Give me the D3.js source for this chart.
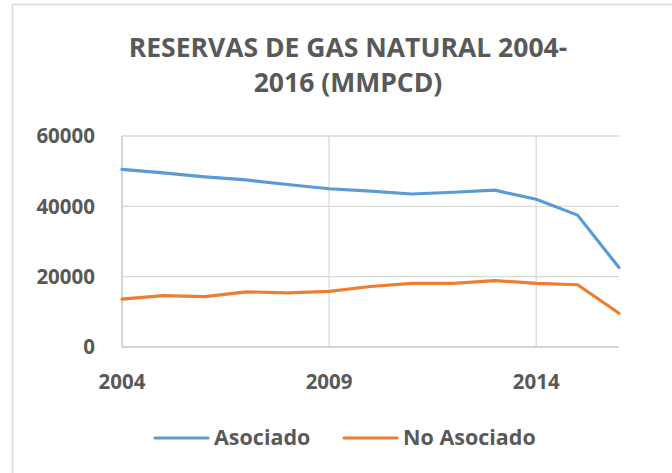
<!DOCTYPE html>
<html>
<head>
<meta charset="utf-8">
<script src="https://cdn.jsdelivr.net/npm/d3@7"></script>
<style>
  body { margin: 0; background: #fff; }
  svg { display: block; font-family: "Open Sans", sans-serif; }
</style>
</head>
<body>
<div id="chart"></div>
<script>
// data
const years = [2004, 2005, 2006, 2007, 2008, 2009, 2010, 2011, 2012, 2013, 2014, 2015, 2016];
const asociado = [50500, 49500, 48400, 47500, 46200, 45000, 44300, 43500, 44000, 44600, 42000, 37500, 22600];
const noAsociado = [13600, 14600, 14300, 15700, 15400, 15800, 17200, 18100, 18100, 18900, 18100, 17700, 9600];
const yTicks = [0, 20000, 40000, 60000];
const xTicks = [2004, 2009, 2014];
const seriesNames = ["Asociado", "No Asociado"];
const colors = ["#5b9bd5", "#ed7d31"];

const width = 672;
const height = 473;
const textColor = "#595959";

function drawChart(el) {
    const svg = el.append("svg").attr("width", width).attr("height", height);

    // chart area border
    svg.append("rect")
        .attr("x", 12.5).attr("y", 4.5)
        .attr("width", width).attr("height", height)
        .attr("fill", "#fff")
        .attr("stroke", "#d9d9d9").attr("stroke-width", 1.5);

    // title, two lines
    const title = svg.append("text")
        .attr("text-anchor", "middle")
        .attr("fill", textColor)
        .attr("font-weight", "bold")
        .attr("font-size", 26.5);
    title.append("tspan").attr("x", 348).attr("y", 57).text("RESERVAS DE GAS NATURAL 2004-");
    title.append("tspan").attr("x", 348).attr("y", 92).text("2016 (MMPCD)");

    const xscale = d3.scaleLinear().domain([2004, 2016]).range([122, 619]);
    const yscale = d3.scaleLinear().domain([0, 60000]).range([347, 136]);

    // gridlines
    svg.append("g").selectAll("line").data(yTicks.filter(d => d > 0)).join("line")
        .attr("x1", xscale(2004)).attr("x2", xscale(2016))
        .attr("y1", d => yscale(d)).attr("y2", d => yscale(d))
        .attr("stroke", "#d9d9d9").attr("stroke-width", 1.3);
    svg.append("g").selectAll("line").data(xTicks.filter(d => d > 2004)).join("line")
        .attr("x1", d => xscale(d)).attr("x2", d => xscale(d))
        .attr("y1", yscale(0)).attr("y2", yscale(60000))
        .attr("stroke", "#d9d9d9").attr("stroke-width", 1.3);

    // axis lines
    svg.append("line")
        .attr("x1", xscale(2004)).attr("x2", xscale(2016))
        .attr("y1", yscale(0)).attr("y2", yscale(0))
        .attr("stroke", "#c6c6c6").attr("stroke-width", 1.5);
    svg.append("line")
        .attr("x1", xscale(2004)).attr("x2", xscale(2004))
        .attr("y1", yscale(0)).attr("y2", yscale(60000))
        .attr("stroke", "#c6c6c6").attr("stroke-width", 1.5);

    // tick labels
    svg.append("g").selectAll("text").data(yTicks).join("text")
        .attr("x", 95)
        .attr("y", d => yscale(d))
        .attr("dy", "0.36em")
        .attr("text-anchor", "end")
        .attr("fill", textColor)
        .attr("font-weight", "bold")
        .attr("font-size", 20.5)
        .text(d => d);
    svg.append("g").selectAll("text").data(xTicks).join("text")
        .attr("x", d => xscale(d))
        .attr("y", 389)
        .attr("text-anchor", "middle")
        .attr("fill", textColor)
        .attr("font-weight", "bold")
        .attr("font-size", 20.5)
        .text(d => d);

    // series lines
    const line = d3.line().x((d, i) => xscale(years[i])).y(d => yscale(d));
    [asociado, noAsociado].forEach((s, i) => {
        svg.append("path")
            .attr("d", line(s))
            .attr("fill", "none")
            .attr("stroke", colors[i])
            .attr("stroke-width", 3.2)
            .attr("stroke-linejoin", "round")
            .attr("stroke-linecap", "round");
    });

    // legend
    const legendX = [155, 344];
    const lg = svg.append("g").selectAll("g").data(seriesNames).join("g")
        .attr("transform", (d, i) => `translate(${legendX[i]},438)`);
    lg.append("line")
        .attr("x1", 0).attr("x2", 53)
        .attr("stroke", (d, i) => colors[i])
        .attr("stroke-width", 3.2)
        .attr("stroke-linecap", "round");
    lg.append("text")
        .attr("x", 59).attr("y", 7)
        .attr("fill", textColor)
        .attr("font-weight", "bold")
        .attr("font-size", 21.5)
        .text(d => d);
}

drawChart(d3.select("#chart"));
</script>
</body>
</html>
